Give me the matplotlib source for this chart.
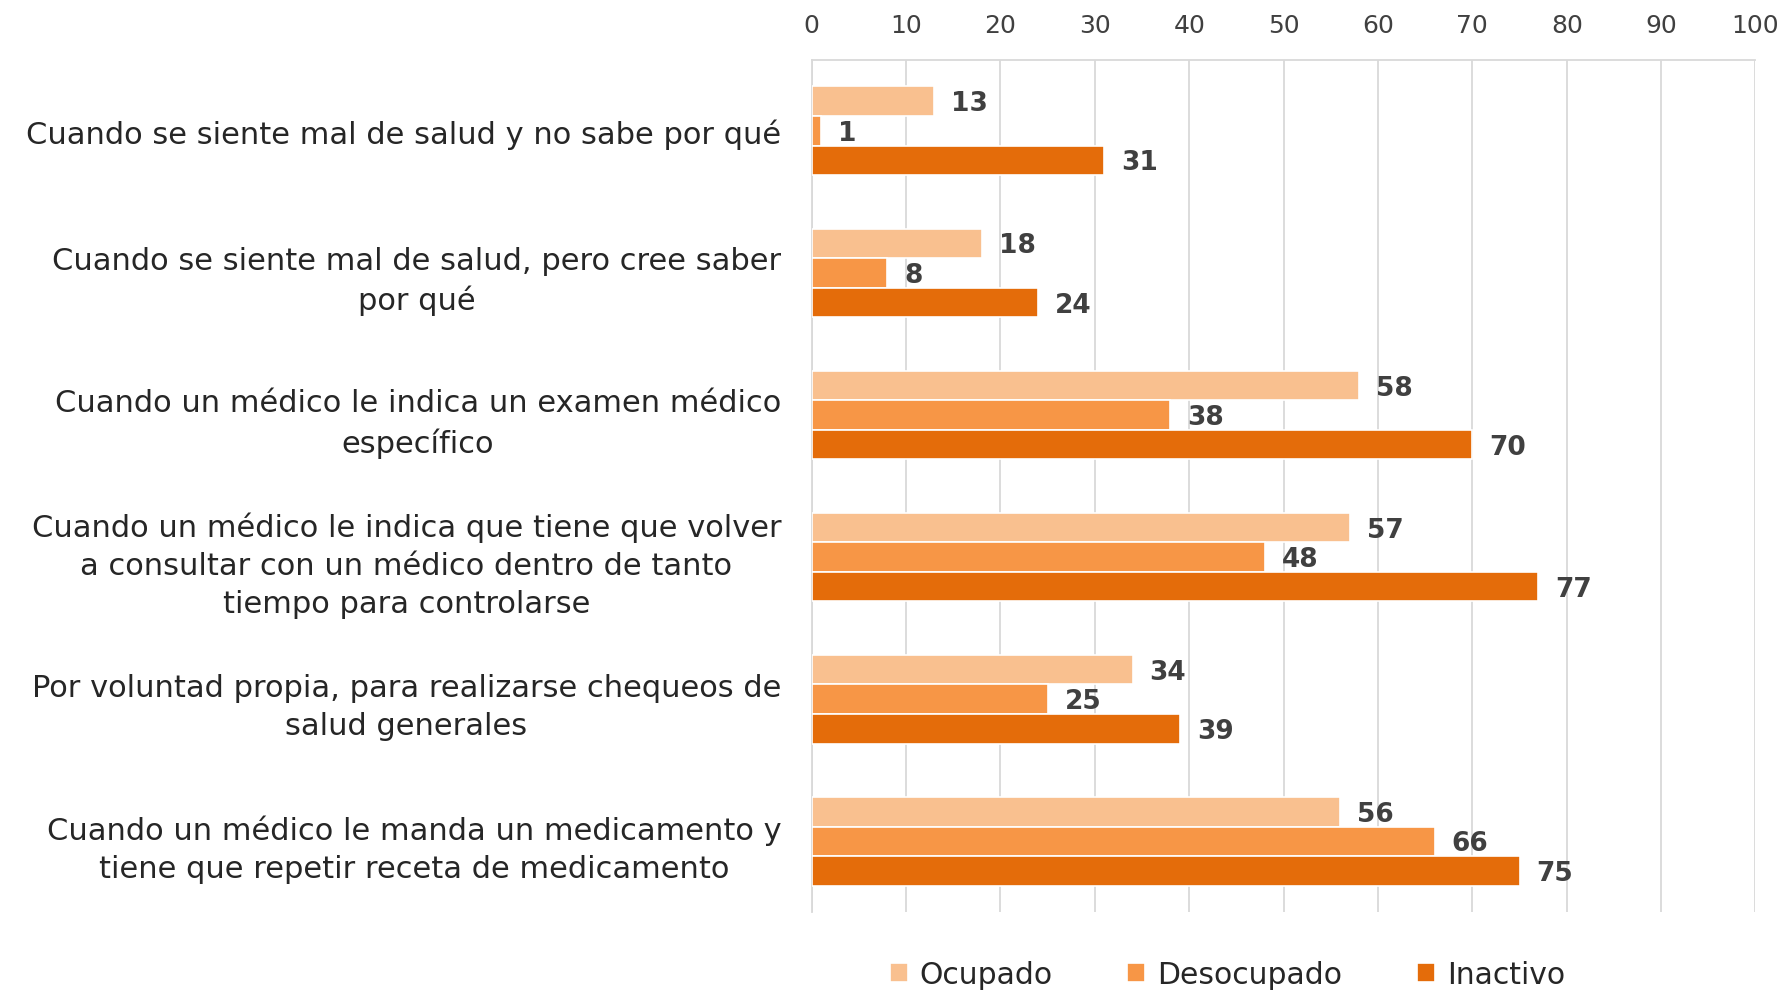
import numpy as np
import matplotlib.pyplot as plt

categories = [
    "Cuando se siente mal de salud y no sabe por qué",
    "Cuando se siente mal de salud, pero cree saber\npor qué",
    "Cuando un médico le indica un examen médico\nespecífico",
    "Cuando un médico le indica que tiene que volver\na consultar con un médico dentro de tanto\ntiempo para controlarse",
    "Por voluntad propia, para realizarse chequeos de\nsalud generales",
    "Cuando un médico le manda un medicamento y\ntiene que repetir receta de medicamento",
]
ocupado = [13, 18, 58, 57, 34, 56]
desocupado = [1, 8, 38, 48, 25, 66]
inactivo = [31, 24, 70, 77, 39, 75]

series = [("Ocupado", ocupado, "#F9C08F"),
          ("Desocupado", desocupado, "#F79646"),
          ("Inactivo", inactivo, "#E46C0A")]

fig = plt.figure(figsize=(17.84, 9.95), dpi=100)
ax = fig.add_axes([0.455, 0.082, 0.529, 0.857])

y = np.arange(len(categories))
h = 0.208
for i, (name, vals, col) in enumerate(series):
    pos = y + (i - 1) * h
    bars = ax.barh(pos, vals, height=h, color=col, edgecolor="white",
                   linewidth=1.2, label=name, zorder=3)
    for b, v in zip(bars, vals):
        ax.text(b.get_width() + 1.8, b.get_y() + b.get_height() / 2 + 0.015, str(v),
                va="center", ha="left", fontsize=19, fontweight="bold",
                color="#404040", zorder=4)

ax.set_xlim(0, 100)
ax.set_ylim(5.5, -0.5)
ax.set_xticks(range(0, 101, 10))
ax.xaxis.tick_top()
ax.tick_params(axis="x", length=0, pad=16, labelsize=18, labelcolor="#404040")
ax.set_yticks(y)
ax.set_yticklabels(categories, fontsize=22, color="#262626",
                   multialignment="center", linespacing=1.4)
ax.tick_params(axis="y", length=0, pad=22)
ax.grid(axis="x", color="#D9D9D9", linewidth=1.3, zorder=0)
for s in ["right", "bottom"]:
    ax.spines[s].set_visible(False)
for s in ["top", "left"]:
    ax.spines[s].set_color("#D9D9D9")
    ax.spines[s].set_linewidth(1.3)

fig.legend(loc="lower center", bbox_to_anchor=(0.688, -0.022), ncol=3, frameon=False,
           fontsize=21.5, handlelength=0.6, handleheight=0.6, columnspacing=2.5,
           handletextpad=0.4, labelcolor="#262626")

fig.savefig("out.png", dpi=100)
